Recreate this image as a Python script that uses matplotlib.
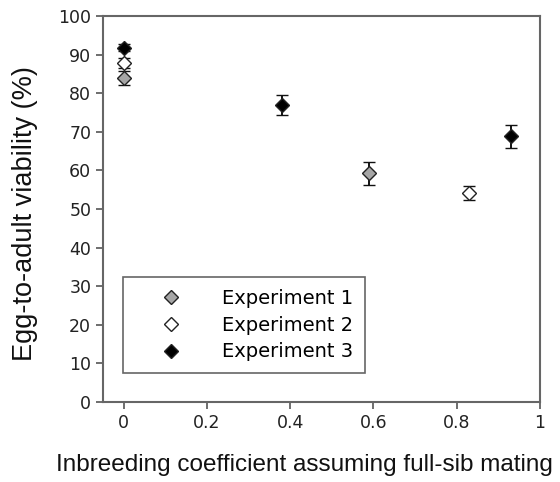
import matplotlib.pyplot as plt

# inbreeding coefficient, viability (%), error
exp1_x = [0.0, 0.59]
exp1_y = [83.9, 59.2]
exp1_err = [1.8, 3.0]

exp2_x = [0.0, 0.83]
exp2_y = [87.7, 54.1]
exp2_err = [1.3, 1.8]

exp3_x = [0.0, 0.38, 0.93]
exp3_y = [91.8, 76.9, 68.8]
exp3_err = [0.8, 2.5, 3.0]

labels = ["Experiment 1", "Experiment 2", "Experiment 3"]
fills = ["#a6a6a6", "white", "black"]

fig = plt.figure(figsize=(5.6, 4.82), dpi=100)
ax = fig.add_axes([0.184, 0.166, 0.78, 0.801])

series = [(exp1_x, exp1_y, exp1_err), (exp2_x, exp2_y, exp2_err), (exp3_x, exp3_y, exp3_err)]
for (x, y, e), lab, fc in zip(series, labels, fills):
    ax.errorbar(x, y, yerr=e, fmt="D", ms=6.8, mfc=fc, mec="#222222", mew=1.0,
                ecolor="#111111", elinewidth=1.4, capsize=4.5, capthick=1.4,
                label=lab)

ax.set_xlim(-0.05, 1.0)
ax.set_ylim(0, 100)
ax.set_xticks([0, 0.2, 0.4, 0.6, 0.8, 1.0])
ax.set_xticklabels(["0", "0.2", "0.4", "0.6", "0.8", "1"])
ax.set_yticks(range(0, 101, 10))

for s in ax.spines.values():
    s.set_color("#666666")
    s.set_linewidth(1.5)
ax.tick_params(direction="out", length=5, width=1.2, color="#555555",
               labelsize=12.5, labelcolor="#222222")

ax.set_xlabel("Inbreeding coefficient assuming full-sib mating",
              fontsize=17.5, family="Liberation Sans", color="#111111")
ax.set_ylabel("Egg-to-adult viability (%)", fontsize=19.5,
              family="Liberation Sans", color="#111111")
ax.xaxis.set_label_coords(0.462, -0.136)
ax.yaxis.set_label_coords(-0.148, 0.487)

handles, labs = ax.get_legend_handles_labels()
handles = [h[0] for h in handles]
leg = ax.legend(handles, labs, loc="lower left", bbox_to_anchor=(0.046, 0.075),
                borderaxespad=0, fancybox=False, fontsize=14, handlelength=3.75,
                handletextpad=0.75, borderpad=0.6, labelspacing=0.4,
                framealpha=1)
leg.get_frame().set_edgecolor("#666666")
leg.get_frame().set_linewidth(1.2)

fig.savefig("out.png", dpi=100)
